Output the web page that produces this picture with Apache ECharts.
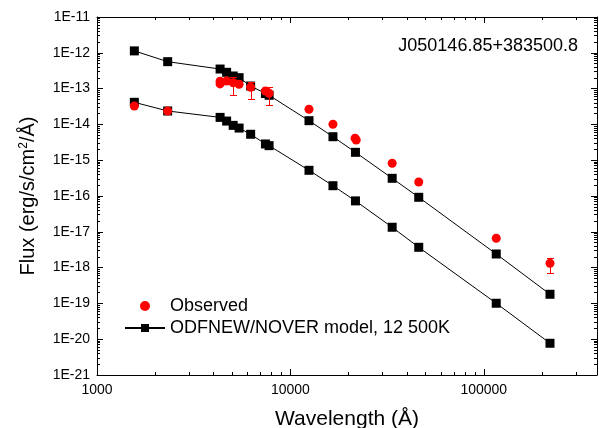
<!DOCTYPE html>
<html><head><meta charset="utf-8">
<script src="https://cdn.jsdelivr.net/npm/echarts@6/dist/echarts.min.js"></script>
<style>html,body{margin:0;padding:0;background:#fff}#c{width:599px;height:428px}</style>
</head><body><div id="c"></div>
<script>
// ---- data (wavelength in Angstrom, flux in erg/s/cm2/A) ----
const modelWave  = [1560, 2320, 4330, 4680, 5060, 5430, 6230, 7430, 7760, 12480, 16600, 21700, 33600, 46100, 116000, 220000];
const modelUpper = [1.13e-12, 5.65e-13, 3.52e-13, 2.85e-13, 2.25e-13, 2.02e-13, 1.18e-13, 7.3e-14, 6.5e-14, 1.27e-14, 4.53e-15, 1.66e-15, 3.12e-16, 9.2e-17, 2.40e-18, 1.80e-19];
const modelLower = [4.14e-14, 2.37e-14, 1.57e-14, 1.24e-14, 9.4e-15, 7.9e-15, 5.3e-15, 2.84e-15, 2.55e-15, 5.22e-16, 1.94e-16, 7.3e-17, 1.34e-17, 3.69e-18, 1.01e-19, 7.7e-21];
const obsWave = [1560, 2320, 4330, 4330, 4680, 5060, 5430, 6230, 7430, 7760, 12480, 16600, 21600, 21900, 33600, 46100, 116000, 220000];
const obsFlux = [3.27e-14, 2.37e-14, 1.6e-13, 1.35e-13, 1.63e-13, 1.46e-13, 1.32e-13, 1.09e-13, 8.6e-14, 7.4e-14, 2.64e-14, 1.01e-14, 4.09e-15, 3.66e-15, 8.2e-16, 2.46e-16, 6.6e-18, 1.32e-18];
const errWave = [5060, 6230, 7760, 220000];
const errLow  = [6.6e-14, 5.0e-14, 3.48e-14, 6.9e-19];
const errHigh = [2.07e-13, 1.56e-13, 1.09e-13, 1.89e-18];
const xTickLabels = [1000, 10000, 100000];
const yTickLabels = [1e-21, 1e-20, 1e-19, 1e-18, 1e-17, 1e-16, 1e-15, 1e-14, 1e-13, 1e-12, 1e-11];
const xRange = [1000, 385000];
const yRange = [1e-21, 1e-11];
const titleText = 'J050146.85+383500.8';
const obsName = 'Observed';
const modelName = 'ODFNEW/NOVER model, 12 500K';

// ---- build ----
const lg = Math.log10;
const FONT = "'Liberation Sans', Arial, Helvetica, sans-serif";
const GRID_W = 500;
const xMin = lg(xRange[0]), xMax = lg(xRange[1]);
const yMin = lg(yRange[0]), yMax = lg(yRange[1]);
function minorVals(majors, hi) {
  const out = [];
  majors.forEach(m => { for (let k = 2; k <= 9; k++) { const v = m * k; if (v < hi) out.push(lg(v)); } });
  return out;
}
const xMinor = minorVals(xTickLabels, xRange[1]);
const yMinor = minorVals(yTickLabels.slice(0, -1), yRange[1]);

const lineSt = { color: '#000', width: 1 };
function majorX(pos, labels) {
  return { gridIndex: 0, type: 'value', position: pos, min: xMin, max: xMax, interval: 1,
    axisLine: { show: true, onZero: false, lineStyle: lineSt },
    axisTick: { show: true, inside: true, length: 6, lineStyle: lineSt },
    axisLabel: { show: labels, showMaxLabel: false, margin: 8, color: '#000', fontSize: 14, fontFamily: FONT,
      formatter: v => String(Math.round(Math.pow(10, v))) },
    splitLine: { show: false } };
}
function majorY(pos, labels) {
  return { gridIndex: 0, type: 'value', position: pos, min: yMin, max: yMax, interval: 1,
    axisLine: { show: true, onZero: false, lineStyle: lineSt },
    axisTick: { show: true, inside: true, length: 6, lineStyle: lineSt },
    axisLabel: { show: labels, margin: 7, color: '#000', fontSize: 14, fontFamily: FONT,
      formatter: v => '1E' + Math.round(v) },
    splitLine: { show: false } };
}
function minorAxis(grid, pos, min, max, vals, extra) {
  return Object.assign({ gridIndex: grid, type: 'value', position: pos, min: min, max: max,
    axisLine: { show: false, onZero: false },
    axisTick: { show: true, inside: true, length: 3, lineStyle: lineSt, customValues: vals },
    axisLabel: { show: false }, splitLine: { show: false } }, extra || {});
}

const gridBox = { left: 97, top: 17, width: GRID_W, height: 358, outerBoundsMode: 'none', containLabel: false };

const option = {
  animation: false,
  backgroundColor: '#fff',
  grid: [Object.assign({}, gridBox), Object.assign({}, gridBox), Object.assign({}, gridBox)],
  xAxis: [majorX('bottom', true), majorX('top', false),
          minorAxis(1, 'bottom', xMin, xMax, xMinor), minorAxis(2, 'top', xMin, xMax, xMinor)],
  yAxis: [majorY('left', true), majorY('right', false),
          // left-side minor ticks: a right-positioned axis shifted onto the left edge, ticks pointing into the plot
          minorAxis(1, 'right', yMin, yMax, yMinor, { offset: -GRID_W,
            axisTick: { show: true, inside: false, length: 3, lineStyle: lineSt, customValues: yMinor } }),
          minorAxis(2, 'right', yMin, yMax, yMinor)],
  legend: {
    left: 124, top: 297, orient: 'vertical', itemWidth: 40, itemHeight: 10, itemGap: 4, padding: 0,
    selectedMode: false,
    textStyle: { fontSize: 18, color: '#000', fontFamily: FONT, lineHeight: 18 },
    data: [obsName, modelName]
  },
  graphic: [
    { type: 'text', x: 578, y: 46, silent: true,
      style: { text: titleText, align: 'right', verticalAlign: 'middle', fontSize: 18, fontFamily: FONT, fill: '#000' } },
    { type: 'text', x: 347, y: 419, silent: true,
      style: { text: 'Wavelength (Å)', align: 'center', verticalAlign: 'middle', fontSize: 21, fontFamily: FONT, fill: '#000' } },
    { type: 'text', x: 28, y: 196, rotation: Math.PI / 2, silent: true,
      style: { text: 'Flux (erg/s/cm{sup|2}/Å)', align: 'center', verticalAlign: 'middle', fontSize: 20, fontFamily: FONT, fill: '#000',
        rich: { sup: { fontSize: 12, fontFamily: FONT, fill: '#000', verticalAlign: 'top' } } } }
  ],
  series: [
    { name: modelName, type: 'line', xAxisIndex: 0, yAxisIndex: 0, symbol: 'rect', symbolSize: 9,
      itemStyle: { color: '#000' }, lineStyle: { color: '#000', width: 1 }, z: 2,
      data: modelWave.map((w, i) => [lg(w), lg(modelUpper[i])]) },
    { name: modelName, type: 'line', xAxisIndex: 0, yAxisIndex: 0, symbol: 'rect', symbolSize: 9,
      itemStyle: { color: '#000' }, lineStyle: { color: '#000', width: 1 }, z: 2,
      data: modelWave.map((w, i) => [lg(w), lg(modelLower[i])]) },
    { type: 'custom', xAxisIndex: 0, yAxisIndex: 0, silent: true, z: 3,
      encode: { x: 0, y: [1, 2] },
      renderItem: (params, api) => {
        const x = api.value(0), lo = api.value(1), hi = api.value(2);
        const a = api.coord([x, lo]), b = api.coord([x, hi]);
        const cx = Math.round(a[0]) + 0.5, w = 3.5;
        const st = { stroke: '#ff0000', lineWidth: 1 };
        return { type: 'group', children: [
          { type: 'line', shape: { x1: cx, y1: a[1], x2: cx, y2: b[1] }, style: st },
          { type: 'line', shape: { x1: cx - w, y1: Math.round(a[1]) + 0.5, x2: cx + w, y2: Math.round(a[1]) + 0.5 }, style: st },
          { type: 'line', shape: { x1: cx - w, y1: Math.round(b[1]) + 0.5, x2: cx + w, y2: Math.round(b[1]) + 0.5 }, style: st }
        ] };
      },
      data: errWave.map((w, i) => [lg(w), lg(errLow[i]), lg(errHigh[i])]) },
    { name: obsName, type: 'scatter', xAxisIndex: 0, yAxisIndex: 0, symbol: 'circle', symbolSize: 9,
      itemStyle: { color: '#ff0000', opacity: 1 }, z: 4,
      data: obsWave.map((w, i) => [lg(w), lg(obsFlux[i])]) }
  ]
};
const chart = echarts.init(document.getElementById('c'), null, { renderer: 'canvas' });
chart.setOption(option);
</script></body></html>
